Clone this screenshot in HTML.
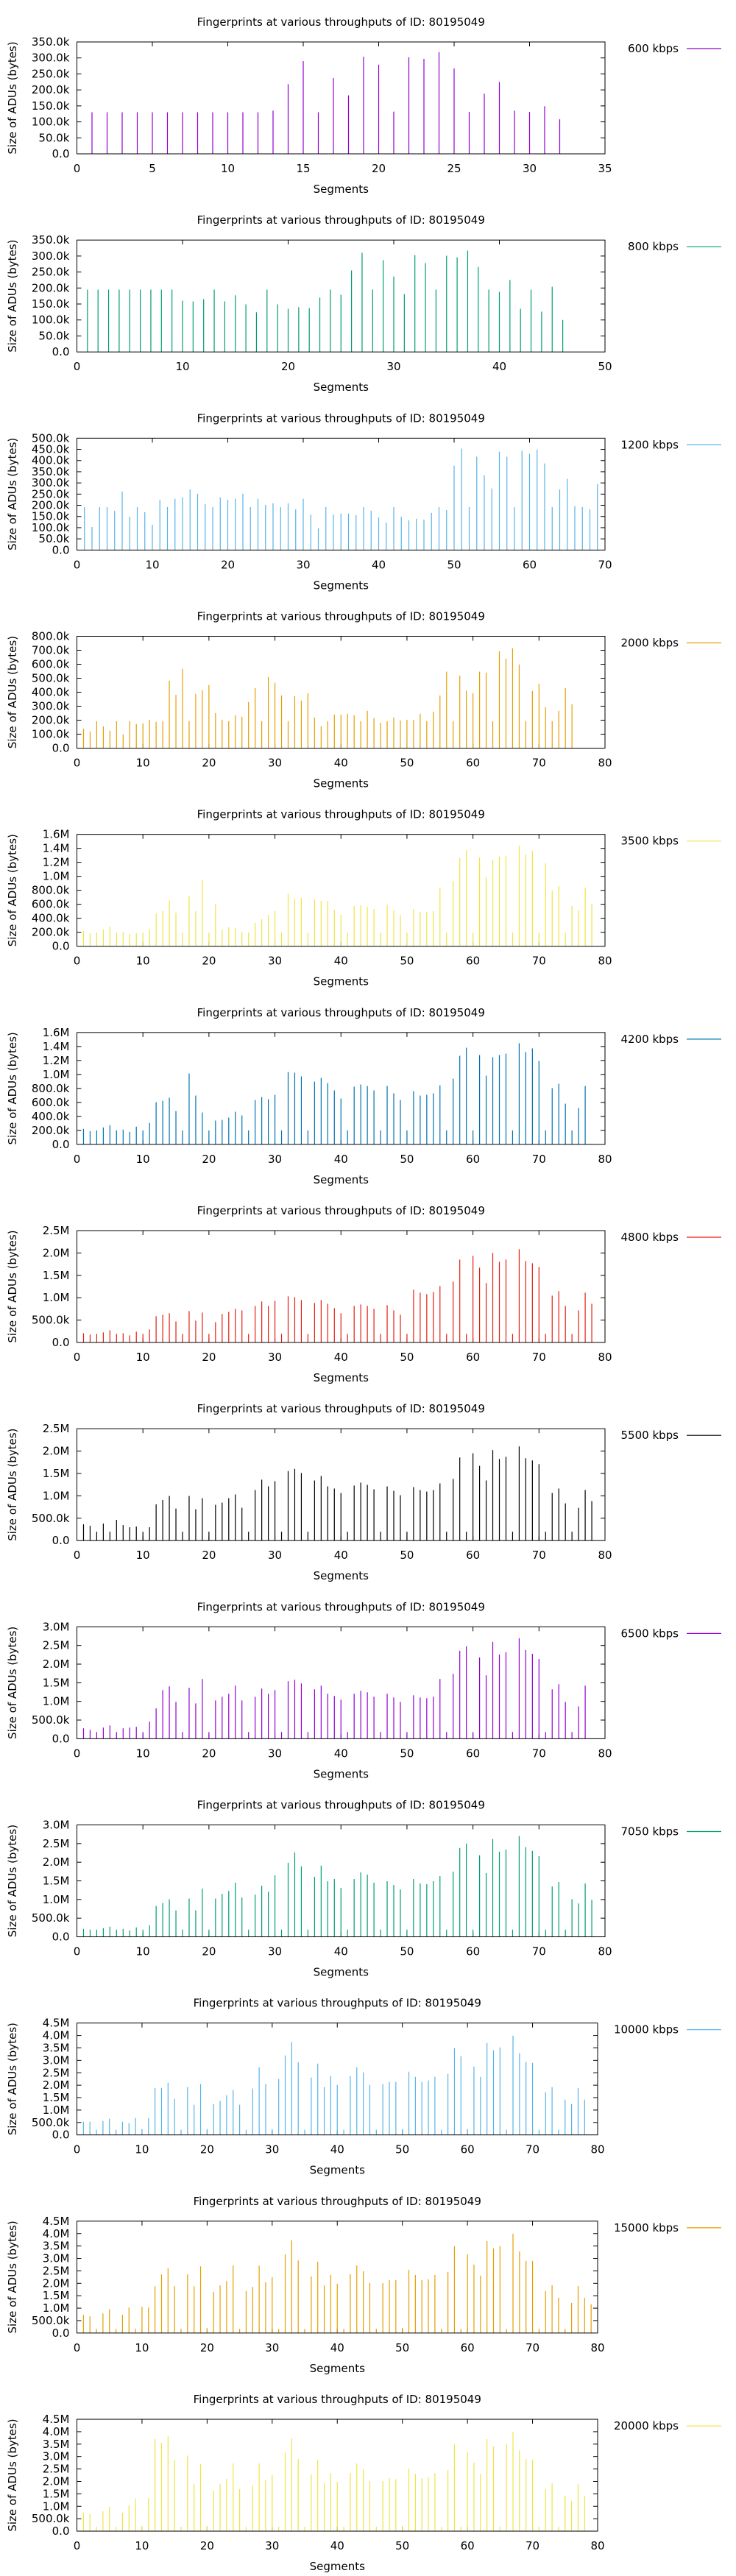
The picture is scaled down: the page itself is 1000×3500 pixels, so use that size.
<!DOCTYPE html>
<html><head><meta charset="utf-8"><style>
html,body{margin:0;padding:0;background:#fff}
svg{display:block}
text{font-family:"DejaVu Sans","Liberation Sans",sans-serif;font-size:15px;fill:#000}
</style></head><body>
<svg id="root" width="1000" height="3500" viewBox="0 0 1000 3500" xmlns="http://www.w3.org/2000/svg"></svg>
<script>
// values in thousands of bytes, index i -> segment i+1
const kbps600 = [130,130,130,130,130,130,130,130,130,130,130,130,135,218,290,130,237,183,304,279,132,302,297,318,267,131,188,225,135,131,149,108];
const kbps800 = [195,195,195,195,195,195,195,195,195,160,158,165,195,158,177,149,124,195,149,135,140,137,170,195,179,255,310,195,287,236,181,303,278,195,301,296,317,266,195,188,225,135,195,126,204,100];
const kbps1200 = [192,103,192,192,176,262,149,192,169,113,225,192,229,235,271,252,206,192,235,225,229,252,192,229,202,209,192,209,182,229,159,97,192,159,163,163,156,192,176,146,123,192,149,133,140,136,166,192,179,377,453,192,417,334,275,440,417,192,443,430,449,387,192,271,318,196,192,182,295];
const kbps2000 = [139,119,193,156,125,193,98,193,172,177,203,188,193,482,382,567,193,388,414,451,251,203,193,235,225,330,430,193,509,467,377,193,372,340,393,219,156,193,240,240,246,235,193,267,214,182,193,219,198,203,203,246,193,261,377,547,193,519,409,393,547,540,193,693,640,714,598,193,409,461,293,193,267,430,314];
const kbps3500 = [221,186,196,239,281,196,207,175,186,196,239,470,502,656,481,196,712,502,944,196,607,239,270,260,207,196,333,386,449,502,196,754,681,691,196,670,649,649,523,449,196,575,586,565,533,196,596,512,449,196,533,491,491,502,839,196,933,1260,1376,196,1270,986,1239,1281,1291,196,1439,1312,1365,196,1186,797,860,196,575,512,839,607];
const kbps4200 = [221,189,200,242,274,200,211,179,253,200,305,604,625,667,477,200,1014,698,456,200,340,351,382,467,414,200,635,677,646,709,200,1035,1025,972,200,898,951,877,772,656,200,825,856,835,772,200,835,730,635,200,761,698,709,730,846,200,940,1267,1383,200,1277,983,1246,1277,1298,200,1446,1319,1372,1193,200,804,867,582,200,519,835];
const kbps4800 = [208,175,192,225,274,192,208,159,241,192,291,587,619,652,471,192,702,488,669,192,455,636,685,751,718,192,817,916,817,932,192,1031,1014,948,192,883,948,866,767,652,192,817,850,817,751,192,833,718,619,192,1179,1113,1080,1129,1261,192,1360,1853,192,1935,1672,1327,2001,1804,1853,192,2083,1820,1771,1688,192,1047,1146,817,192,718,1113,866];
const kbps5500 = [364,331,198,380,198,463,347,298,314,198,298,810,909,997,716,198,997,700,948,198,799,849,948,1030,733,198,1130,1361,1212,1328,198,1554,1603,1510,198,1344,1444,1212,1163,1063,198,1229,1295,1245,1146,198,1212,1113,1014,198,1196,1130,1096,1130,1278,198,1378,1857,198,1951,1670,1344,2022,1824,1873,198,2105,1840,1791,1708,198,1063,1163,832,198,733,1130,882];
const kbps6500 = [278,238,179,298,357,179,278,298,318,179,457,814,1304,1403,986,179,1364,947,1602,179,1026,1125,1205,1423,1026,179,1125,1344,1205,1304,179,1542,1582,1483,179,1324,1423,1205,1145,1046,179,1205,1284,1245,1125,179,1205,1106,986,179,1165,1106,1086,1125,1602,179,1741,2357,2476,179,2178,1701,2595,2257,2317,179,2694,2377,2277,2138,179,1324,1463,986,179,867,1423];
const kbps7050 = [212,192,192,232,271,192,212,172,252,192,311,828,907,1006,708,192,1026,708,1291,192,1026,1152,1231,1450,1053,192,1132,1370,1211,1648,192,1986,2264,1887,192,1609,1907,1490,1549,1311,192,1549,1728,1668,1450,192,1490,1390,1271,192,1549,1430,1410,1490,1629,192,1748,2383,2502,192,2185,1708,2622,2284,2343,192,2701,2403,2304,2165,192,1350,1470,192,1013,894,1430,993];
const kbps10000 = [532,532,207,562,651,207,532,473,680,237,680,1893,1893,2100,1449,207,1923,1213,2041,237,1242,1361,1597,1804,1213,207,1864,2721,2041,237,2248,3195,3727,2928,207,2307,2869,1923,2366,2011,207,2366,2721,2514,2011,207,2041,2130,2130,237,2544,2337,2130,2189,2337,207,2455,3490,3165,237,2751,2337,3698,3402,3520,207,3993,3283,2928,2899,207,1716,1923,207,1420,1242,1893,1420];
const kbps15000 = [730,670,168,789,966,168,730,1025,168,1055,1025,1883,2357,2603,1883,168,2357,1883,2682,197,1656,1913,2090,2711,168,1686,1854,2711,2041,2248,168,3165,3727,2919,168,2278,2869,1913,2337,1982,168,2366,2721,2485,2011,168,2011,2130,2130,197,2544,2337,2130,2159,2337,168,2455,3490,168,3165,2751,2307,3698,3402,3490,168,3993,3283,2899,2899,168,1686,1923,1420,168,1213,1893,1420,1154];
const kbps20000 = [740,680,177,799,976,177,740,1035,1302,207,1331,3698,3550,3816,2869,177,3037,1893,2692,207,1627,1893,2100,2721,1686,177,1834,2721,2041,2248,177,3165,3727,2899,177,2278,2869,1923,2337,1982,177,2337,2721,2485,2011,177,2011,2130,2100,207,2514,2307,2130,2159,2337,177,2455,3490,177,3165,2751,2307,3698,3402,177,3490,3993,3254,2899,2869,177,1686,1923,177,1420,1213,1893,1420];

const legendLabels = ["600 kbps","800 kbps","1200 kbps","2000 kbps","3500 kbps","4200 kbps","4800 kbps","5500 kbps","6500 kbps","7050 kbps","10000 kbps","15000 kbps","20000 kbps"];
const yTicks350 = ["0.0","50.0k","100.0k","150.0k","200.0k","250.0k","300.0k","350.0k"];
const yTicks500 = ["0.0","50.0k","100.0k","150.0k","200.0k","250.0k","300.0k","350.0k","400.0k","450.0k","500.0k"];
const yTicks800 = ["0.0","100.0k","200.0k","300.0k","400.0k","500.0k","600.0k","700.0k","800.0k"];
const yTicks1600 = ["0.0","200.0k","400.0k","600.0k","800.0k","1.0M","1.2M","1.4M","1.6M"];
const yTicks2500 = ["0.0","500.0k","1.0M","1.5M","2.0M","2.5M"];
const yTicks3000 = ["0.0","500.0k","1.0M","1.5M","2.0M","2.5M","3.0M"];
const yTicks4500 = ["0.0","500.0k","1.0M","1.5M","2.0M","2.5M","3.0M","3.5M","4.0M","4.5M"];

const panels = [
 {s:kbps600,c:"#9400d3",ymax:350,yt:yTicks350,xmax:35,xs:5},
 {s:kbps800,c:"#009e73",ymax:350,yt:yTicks350,xmax:50,xs:10},
 {s:kbps1200,c:"#56b4e9",ymax:500,yt:yTicks500,xmax:70,xs:10},
 {s:kbps2000,c:"#e69f00",ymax:800,yt:yTicks800,xmax:80,xs:10},
 {s:kbps3500,c:"#f0e442",ymax:1600,yt:yTicks1600,xmax:80,xs:10},
 {s:kbps4200,c:"#0072b2",ymax:1600,yt:yTicks1600,xmax:80,xs:10},
 {s:kbps4800,c:"#e51e10",ymax:2500,yt:yTicks2500,xmax:80,xs:10},
 {s:kbps5500,c:"#000000",ymax:2500,yt:yTicks2500,xmax:80,xs:10},
 {s:kbps6500,c:"#9400d3",ymax:3000,yt:yTicks3000,xmax:80,xs:10},
 {s:kbps7050,c:"#009e73",ymax:3000,yt:yTicks3000,xmax:80,xs:10},
 {s:kbps10000,c:"#56b4e9",ymax:4500,yt:yTicks4500,xmax:80,xs:10},
 {s:kbps15000,c:"#e69f00",ymax:4500,yt:yTicks4500,xmax:80,xs:10},
 {s:kbps20000,c:"#f0e442",ymax:4500,yt:yTicks4500,xmax:80,xs:10}
];

const NS="http://www.w3.org/2000/svg";
const root=document.getElementById('root');
function mk(tag,attrs,parent){const e=document.createElementNS(NS,tag);for(const k in attrs)e.setAttribute(k,attrs[k]);parent.appendChild(e);return e;}

panels.forEach((p,i)=>{
  const top=57+i*269.17, bot=top+152, left=104.5, right=(i>=10?812:822);
  const g=mk('g',{},root);
  
  
  const xS=v=>left+(right-left)*v/p.xmax;
  const yS=v=>bot-(bot-top)*v/p.ymax;
  const t=mk('text',{x:(left+right)/2,y:top-22,'text-anchor':'middle'},g);
  t.textContent="Fingerprints at various throughputs of ID: 80195049";
  
  
  // y ticks
  const ystep=p.ymax/(p.yt.length-1);
  p.yt.forEach((lab,k)=>{
    const y=yS(k*ystep);
    if(k>0&&k<p.yt.length-1){
      mk('line',{x1:left,x2:left+6,y1:y,y2:y,stroke:'#000','stroke-width':1},g);
      mk('line',{x1:right,x2:right-6,y1:y,y2:y,stroke:'#000','stroke-width':1},g);
    }
    const tx=mk('text',{x:left-10,y:y+5,'text-anchor':'end'},g);
    tx.textContent=lab;
    
    
  });
  for(let v=0;v<=p.xmax;v+=p.xs){
    const x=xS(v);
    if(v>0&&v<p.xmax){
      mk('line',{x1:x,x2:x,y1:bot,y2:bot-6,stroke:'#000','stroke-width':1},g);
      mk('line',{x1:x,x2:x,y1:top,y2:top+6,stroke:'#000','stroke-width':1},g);
    }
    const tx=mk('text',{x:x,y:bot+25,'text-anchor':'middle'},g);
    tx.textContent=String(v);
    
    
  }
  const xl=mk('text',{x:(left+right)/2,y:bot+53,'text-anchor':'middle'},g);
  xl.textContent="Segments";
  
  
  const cy=(top+bot)/2;
  const yl=mk('text',{x:22,y:cy,'text-anchor':'middle',transform:'rotate(-90 22 '+cy+')'},g);
  yl.textContent="Size of ADUs (bytes)";
  
  
  p.s.forEach((v,k)=>{
    const x=xS(k+1);
    const b=mk('line',{x1:x,x2:x,y1:bot,y2:yS(v),stroke:p.c,'stroke-width':1.2},g);
    
    
  });
  const fr=mk('rect',{x:left,y:top,width:right-left,height:bot-top,fill:'none',stroke:'#000','stroke-width':1},g);
  
  
  const lg=mk('text',{x:922,y:top+14,'text-anchor':'end'},g);
  lg.textContent=legendLabels[i];
  
  
  const ll=mk('line',{x1:933,x2:980,y1:top+9,y2:top+9,stroke:p.c,'stroke-width':1.2},g);
  
  
});
</script>
</body></html>
